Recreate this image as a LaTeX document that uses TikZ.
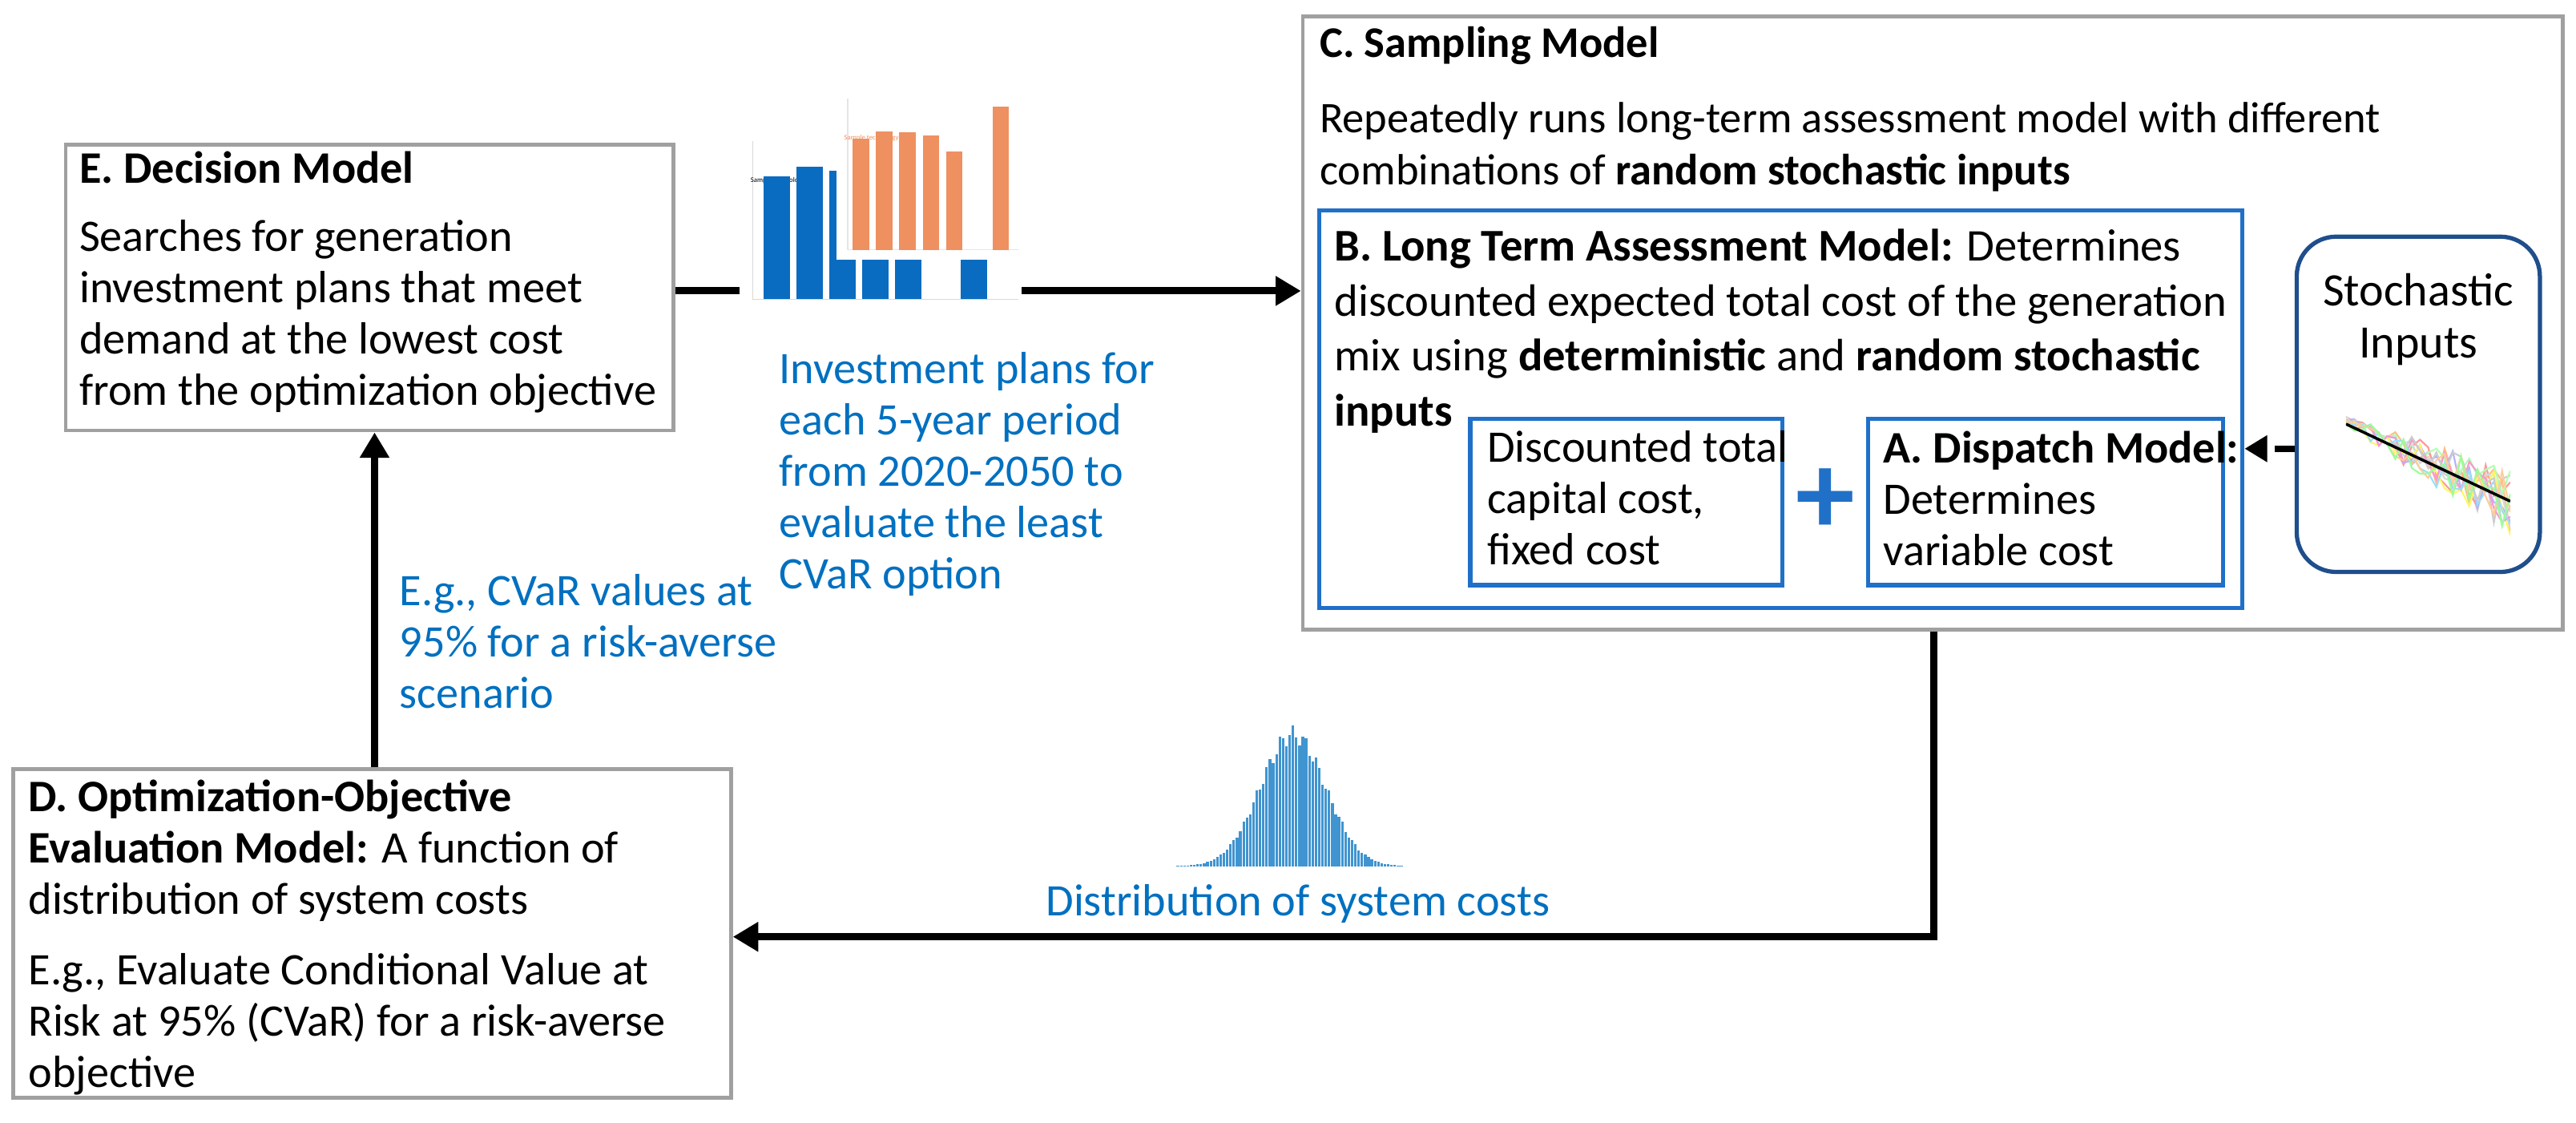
\documentclass[tikz,border=0pt]{standalone}
\usepackage{fontspec}
\setmainfont{Carlito}
\usetikzlibrary{arrows.meta,fit}
\definecolor{tblue}{HTML}{0070C0}
\definecolor{bbox}{HTML}{2070C8}
\definecolor{dblue}{HTML}{1F4E8C}
\definecolor{gbox}{HTML}{A0A0A0}
\definecolor{bar1}{HTML}{0A6CC0}
\definecolor{bar2}{HTML}{EE9060}
\begin{document}
\begin{tikzpicture}[x=0.0205cm,y=-0.0205cm,
  txt/.style={anchor=north west,inner sep=0pt,align=left,font=\fontsize{16}{18.2}\selectfont},
  btxt/.style={txt,text=tblue},
  gb/.style={draw=gbox,line width=1.3pt,inner sep=0pt},
  bb/.style={draw=bbox,line width=1.5pt,inner sep=0pt},
  arr/.style={line width=2.6pt,-{Triangle[length=9pt,width=10pt]}}]
\useasboundingbox (0,0) rectangle (1568,683);
% E box
\node[gb,fit={(40,88)(410,262)}] (E) {};
\node[txt] (Et) at (48,92) {\textbf{E. Decision Model}\\[6pt] Searches for generation\\investment plans that meet\\demand at the lowest cost\\from the optimization objective};
% C box
\node[gb,fit={(793,10)(1560,383)}] (C) {};
\node[txt,font=\fontsize{15.5}{18.6}\selectfont] (Ct) at (803,16) {\textbf{C. Sampling Model}\\[8pt] Repeatedly runs long-term assessment model with different\\combinations of \textbf{random stochastic inputs}};
% B box
\node[bb,fit={(803,128)(1365,370)}] (B) {};
\node[txt,font=\fontsize{16.1}{19.5}\selectfont] (Bt) at (812,139) {\textbf{B. Long Term Assessment Model:} Determines\\discounted expected total cost of the generation\\mix using \textbf{deterministic} and \textbf{random stochastic}\\\textbf{inputs}};
\node[bb,fit={(895,255)(1085,356)}] (K) {};
\node[txt] (Kt) at (905,262) {Discounted total\\capital cost,\\fixed cost};
\node[bb,fit={(1137,255)(1353,356)}] (A) {};
\node[txt] (At) at (1146,262) {\textbf{A. Dispatch Model:}\\Determines\\variable cost};
\node[text=bbox,font=\fontsize{42}{42}\selectfont\bfseries,inner sep=0pt] (plus) at (1111,305) {+};
% stochastic
\node[draw=dblue,line width=1.5pt,rounded corners=14pt,inner sep=0pt,fit={(1398,144)(1546,348)}] (S) {};
\node[txt,anchor=north,align=center,font=\fontsize{16.5}{18.5}\selectfont] (St) at (1472,166) {Stochastic\\Inputs};
\begin{scope}
\clip (1428,248) rectangle (1528,330);
\draw[gray!20,line width=1pt] (1428,247) -- (1528,247);
\foreach \s/\c in {1/gray!40,2/red!40,3/orange!50,4/green!30,5/blue!30,6/gray!30,7/yellow!60,8/magenta!40,9/cyan!40,10/gray!40,11/orange!40,12/green!40}{
  \pgfmathsetseed{\s}
  \draw[\c,line width=0.6pt] (1428,{256+rand*3}) \foreach \i in {1,...,20}{ -- ({1428+5*\i},{256+2.5*\i+rand*(3+\i*0.9)})};
}
\draw[black,line width=1pt] (1428,258) -- (1528,305);
\end{scope}
\draw[line width=2.4pt,dash pattern=on 7pt off 4pt,-{Triangle[length=8pt,width=9pt]}] (S.west|-0,273) -- (B.east|-0,273);
% E -> C arrow
\draw[arr] (E.east|-0,177) -- (C.west|-0,177);
% charts
\fill[white] (450,86) rectangle (622,190);
\draw[gray!30,line width=0.3pt] (458,86) -- (458,182) -- (620,182);
\node[font=\fontsize{2.5}{3}\selectfont,inner sep=0pt] at (475,110) {Sample technology 1};
\foreach \i/\h in {1/88,2/95,3/92,4/92,5/92,7/92}{
  \fill[bar1] ({458+(\i-1)*20+7},182) rectangle ({458+(\i-1)*20+23},{182-\h*0.85});
}
\fill[white] (509,58) rectangle (622,158);
\draw[gray!20,line width=0.3pt] (516,60) -- (516,152) -- (620,152);
\node[font=\fontsize{2.5}{3}\selectfont,inner sep=0pt,text=bar2] at (532,84) {Sample technology 2};
\foreach \i/\h in {1/0.78,2/0.83,3/0.82,4/0.8,5/0.69,7/1.0}{
  \fill[bar2] ({516+(\i-1)*14.2+3},152) rectangle ({516+(\i-1)*14.2+13},{152-\h*87});
}
\node[btxt] (It) at (474,214) {Investment plans for\\each 5-year period\\from 2020-2050 to\\evaluate the least\\CVaR option};
% D box
\node[gb,fit={(8,468)(445,668)}] (D) {};
\node[txt] (Dt) at (17,474) {\textbf{D. Optimization-Objective}\\\textbf{Evaluation Model:} A function of\\distribution of system costs\\[7pt]E.g., Evaluate Conditional Value at\\Risk at 95\% (CVaR) for a risk-averse\\objective};
\coordinate (corner) at (1177,570);
\draw[arr] (C.south-|corner) -- (corner) -- (D.east|-corner);
% histogram
\foreach \i in {-34,...,34}{
  \pgfmathsetmacro{\h}{80*exp(-((\i-1)/14)^2)*(1+0.07*sin(\i*97))}
  \fill[tblue!75] ({785+2*\i-0.8},527) rectangle ({785+2*\i+0.8},{527-\h});
}
\node[btxt,anchor=north] (Ht) at (790,538) {Distribution of system costs};
% D -> E arrow
\draw[arr] (D.north-|228,0) -- (E.south-|228,0);
\node[btxt] (Ct2) at (243,349) {E.g., CVaR values at\\95\% for a risk-averse\\scenario};
\end{tikzpicture}
\end{document}
